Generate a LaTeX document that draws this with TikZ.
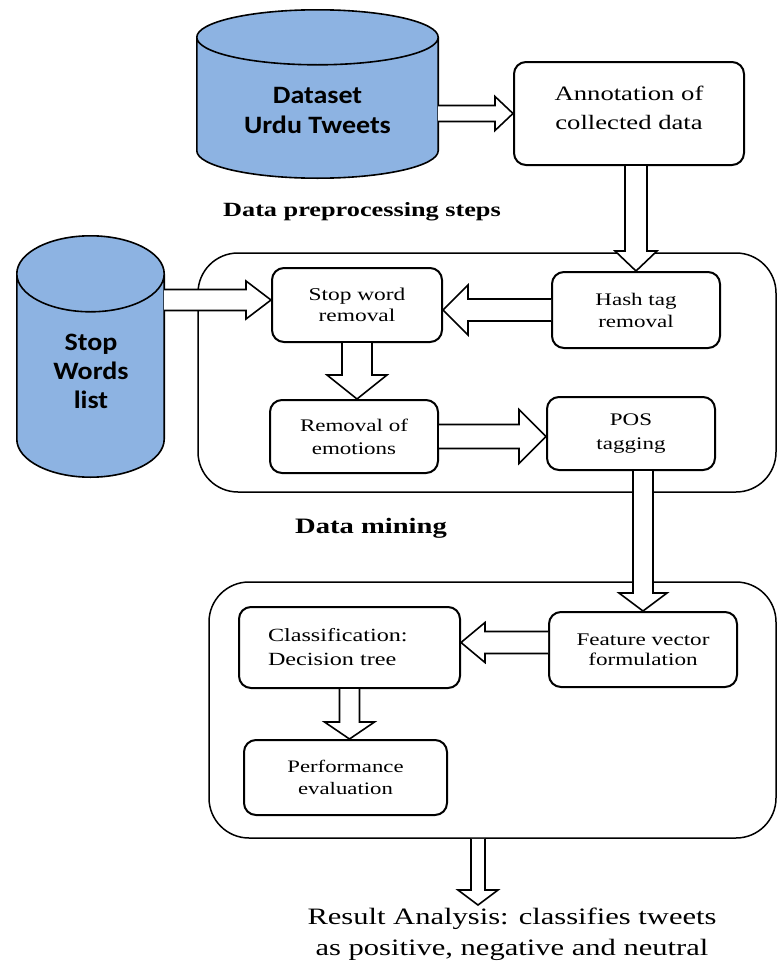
\documentclass[tikz,border=0pt]{standalone}
\usepackage{fontspec}
\setmainfont{Liberation Serif}[FakeStretch=1.3]
\newfontfamily\cylfont{Carlito}[FakeStretch=1.12]
\usetikzlibrary{calc}
\definecolor{cylblue}{HTML}{8DB3E2}

\tikzset{
  box/.style={draw, line width=2pt, rounded corners=12pt, fill=white,
    inner sep=0pt, align=center},
  stage/.style={draw, line width=1.5pt, rounded corners=40pt, inner sep=0pt},
  cylbody/.style={draw, line width=1.6pt, fill=cylblue},
  fat/.style={draw, line width=1.6pt, fill=white, line join=miter},
  cyltext/.style={font=\cylfont\bfseries\fontsize{25}{29}\selectfont, align=center},
  hidden/.style={inner sep=0pt, draw=none},
}

% vertical cylinder drawn inside the bounding box of a node
\newcommand\drawcyl[2]{%
  \path let \p1=(#1.north west), \p2=(#1.south east), \n1={(\x2-\x1)/2} in
    [cylbody] (\x1,\y1-#2) -- (\x1,\y2+#2)
      arc[start angle=180, end angle=360, x radius=\n1, y radius=#2]
      -- (\x2,\y1-#2)
      arc[start angle=0, end angle=180, x radius=\n1, y radius=#2] -- cycle
    (\x1,\y1-#2) arc[start angle=180, end angle=360, x radius=\n1, y radius=#2];
}

% outlined block arrow: start, end, shaft half-width, head half-width, head length
\newcommand\fatarrow[5]{%
  \coordinate (fa-s) at #1;
  \coordinate (fa-e) at #2;
  \coordinate (fa-h) at ($(fa-e)!#5!(fa-s)$);
  \draw[fat] ($(fa-s)!#3!90:(fa-e)$) -- ($(fa-h)!#3!-90:(fa-s)$)
    -- ($(fa-h)!#4!-90:(fa-s)$) -- (fa-e) -- ($(fa-h)!#4!90:(fa-s)$)
    -- ($(fa-h)!#3!90:(fa-s)$) -- ($(fa-s)!#3!-90:(fa-e)$);
}

\begin{document}
\begin{tikzpicture}[x=1pt, y=1pt]
\useasboundingbox (0,0) rectangle (778,-969);

% cylinders (data stores)
\node[hidden, minimum width=241pt, minimum height=168pt] (ds) at (317.5,-94) {};
\drawcyl{ds}{27.5pt}
\node[cyltext, font=\cylfont\bfseries\fontsize{25}{30}\selectfont] (dstext)
  at (317.5,-110) {Dataset\\Urdu Tweets};

\node[hidden, minimum width=147pt, minimum height=241pt] (sl) at (90.5,-356.5) {};
\drawcyl{sl}{38pt}
\node[cyltext] (sltext) at (91,-371) {Stop\\Words\\list};

% stage frames
\node[stage, minimum width=578pt, minimum height=239pt] (dm) at (487,-372.5) {};
\node[stage, minimum width=567pt, minimum height=256pt] (cl) at (492.5,-710) {};

% process boxes
\node[box, minimum width=230pt, minimum height=103pt,
  font=\fontsize{20.5}{29}\selectfont] (annot) at (629,-113.5)
  {Annotation of\\collected data\\[-17pt]};
\node[box, minimum width=170pt, minimum height=74pt,
  font=\fontsize{18}{21}\selectfont] (sw) at (357,-305) {Stop word\\removal};
\node[box, minimum width=168pt, minimum height=76pt,
  font=\fontsize{17.7}{22}\selectfont] (hash) at (636,-310) {Hash tag\\removal};
\node[box, minimum width=168pt, minimum height=73pt,
  font=\fontsize{17.7}{23}\selectfont] (rem) at (354,-436.5) {Removal of\\emotions};
\node[box, minimum width=168pt, minimum height=73pt,
  font=\fontsize{17.7}{24}\selectfont] (pos) at (631,-433.5) {POS\\tagging};
\node[box, minimum width=221pt, minimum height=81pt, align=left,
  text width=163pt, font=\fontsize{18.6}{24}\selectfont] (cls) at (349.5,-647.5)
  {Classification:\\Decision tree};
\node[box, minimum width=188pt, minimum height=75pt,
  font=\fontsize{17.8}{20}\selectfont] (feat) at (643,-649.5)
  {Feature vector\\formulation};
\node[box, minimum width=203pt, minimum height=75pt,
  font=\fontsize{17.5}{22}\selectfont] (perf) at (345.5,-777.5)
  {Performance\\evaluation};

% captions
\node[font=\bfseries\fontsize{20.2}{24}\selectfont] (pre) at (362,-212)
  {Data preprocessing steps};
\node[font=\bfseries\fontsize{22}{26}\selectfont] (mine) at (371,-528) {Data mining};
\node[align=center, anchor=north, inner sep=0pt,
  font=\fontsize{23.5}{31}\selectfont] (res) at (512,-908)
  {Result Analysis: classifies tweets\\as positive, negative and neutral};

% block arrows
\coordinate (swin) at ($(sw.west)+(0,5)$);
\coordinate (featout) at ($(feat.west)+(0,7)$);
\coordinate (restop) at (478,-905);

\fatarrow{(annot.west -| ds.east)}{(annot.west)}{8pt}{17pt}{18pt}
\fatarrow{(annot.south -| hash.north)}{(hash.north)}{11pt}{21pt}{20pt}
\fatarrow{(swin -| sl.east)}{(swin)}{10.5pt}{19pt}{25pt}
\fatarrow{(hash.west)}{(hash.west -| sw.east)}{11pt}{25pt}{25pt}
\fatarrow{(sw.south)}{(sw.south |- rem.north)}{15pt}{30pt}{24pt}
\fatarrow{(rem.east)}{(rem.east -| pos.west)}{12pt}{27pt}{27pt}
\fatarrow{(pos.south -| feat.north)}{(feat.north)}{10pt}{24pt}{18pt}
\fatarrow{(featout)}{(featout -| cls.east)}{11pt}{20pt}{24pt}
\fatarrow{(cls.south)}{(cls.south |- perf.north)}{10pt}{25pt}{17pt}
\fatarrow{(cl.south -| restop)}{(restop)}{7pt}{20pt}{15pt}
\end{tikzpicture}
\end{document}
